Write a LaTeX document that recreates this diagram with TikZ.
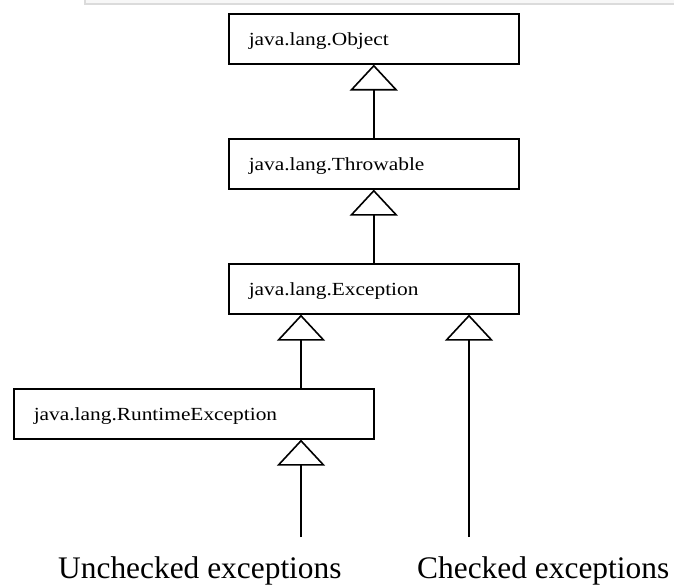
\documentclass[tikz,border=0pt]{standalone}
\usepackage{fontspec}
\setmainfont{Liberation Serif}
\usetikzlibrary{arrows.meta}
\newcommand{\bxtext}[1]{\scalebox{1.155}[1]{\fontsize{18.5bp}{22bp}\selectfont #1}}
\tikzset{
  classbox/.style={draw, line width=1.6bp, minimum height=50bp, inner xsep=20bp, inner ysep=0pt,
    text height=18bp, text depth=4bp, align=left, anchor=north west},
  inh/.style={line width=1.6bp, -{Triangle[open, length=26bp, width=48bp, line width=1.6bp]}},
  biglabel/.style={anchor=base west, inner sep=0pt, font=\fontsize{31.4bp}{36bp}\selectfont}
}
\begin{document}
\begin{tikzpicture}[x=1bp, y=-1bp]
\useasboundingbox (0,0) rectangle (674,585);
% grey strip at top
\fill[gray!6] (85,0) rectangle (674,4);
\draw[gray!28, line width=1.2bp] (85,0) -- (85,4) -- (674,4);

\node[classbox, text width=250bp] (obj) at (228,13) {\bxtext{java.lang.Object}};
\node[classbox, text width=250bp] (thr) at (228,138) {\bxtext{java.lang.Throwable}};
\node[classbox, text width=250bp] (exc) at (228,263) {\bxtext{java.lang.Exception}};
\node[classbox, text width=320bp] (rt) at (13,388) {\bxtext{java.lang.RuntimeException}};

\coordinate (ux) at (301,0);
\coordinate (u) at (301,537);
\coordinate (c) at (469,537);

\draw[inh] (thr.north) -- (obj.south);
\draw[inh] (exc.north) -- (thr.south);
\draw[inh] (rt.north -| ux) -- (exc.south -| ux);
\draw[inh] (u) -- (rt.south -| u);
\draw[inh] (c) -- (exc.south -| c);

\node[biglabel] (ul) at (58,578) {Unchecked exceptions};
\node[biglabel] (cl) at (417,578) {Checked exceptions};
\end{tikzpicture}
\end{document}
